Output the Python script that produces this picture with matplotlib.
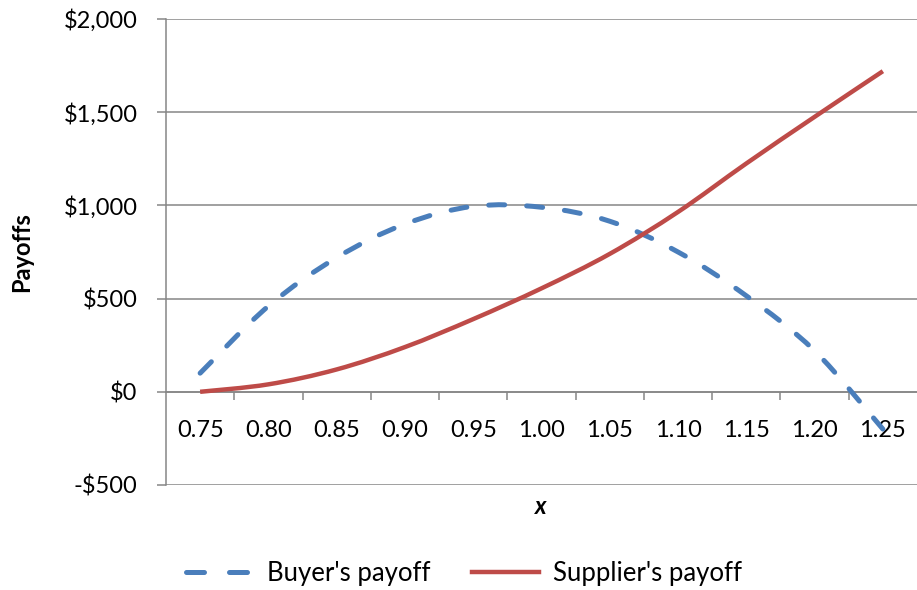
import matplotlib
matplotlib.use("Agg")
import matplotlib.pyplot as plt
from matplotlib.path import Path
from matplotlib.patches import PathPatch
from matplotlib.lines import Line2D
from matplotlib.ticker import FixedLocator, FuncFormatter

plt.rcParams['font.family'] = ['Lato', 'DejaVu Sans']

# Data
x_labels = ["0.75", "0.80", "0.85", "0.90", "0.95", "1.00", "1.05", "1.10", "1.15", "1.20", "1.25"]
buyer_payoff = [100, 460, 720, 900, 995, 990, 915, 750, 515, 220, -200]
supplier_payoff = [0, 40, 120, 240, 390, 555, 740, 965, 1225, 1475, 1720]
y_ticks = [-500, 0, 500, 1000, 1500, 2000]

BLUE = "#4A7EBB"
RED = "#BE4B48"
GRAY = "#868686"


def smooth_path(xs, ys):
    """Cubic Bezier path through every data point (smoothed line)."""
    pts = list(zip(xs, ys))
    n = len(pts)
    verts = [pts[0]]
    codes = [Path.MOVETO]
    for i in range(n - 1):
        p0 = pts[max(i - 1, 0)]
        p1 = pts[i]
        p2 = pts[i + 1]
        p3 = pts[min(i + 2, n - 1)]
        c1 = (p1[0] + (p2[0] - p0[0]) / 6, p1[1] + (p2[1] - p0[1]) / 6)
        c2 = (p2[0] - (p3[0] - p1[0]) / 6, p2[1] - (p3[1] - p1[1]) / 6)
        verts += [c1, c2, p2]
        codes += [Path.CURVE4] * 3
    return Path(verts, codes)


W, H = 917, 590
fig = plt.figure(figsize=(W / 100, H / 100), dpi=100)
ax = fig.add_axes([166 / W, 1 - 485 / H, (W - 166) / W, (485 - 19) / H])

pos = list(range(len(x_labels)))
buyer_dash = (0, (3.2, 4.4))
ax.add_patch(PathPatch(smooth_path(pos, buyer_payoff), fill=False, edgecolor=BLUE,
                       lw=3.6, linestyle=buyer_dash, capstyle='round', zorder=3))
ax.add_patch(PathPatch(smooth_path(pos, supplier_payoff), fill=False, edgecolor=RED,
                       lw=3.2, capstyle='butt', zorder=3))

ax.set_xlim(-0.5, len(x_labels) - 0.5)
ax.set_ylim(-500, 2000)

# Horizontal gridlines
ax.set_yticks(y_ticks)
ax.yaxis.set_major_formatter(FuncFormatter(
    lambda v, _: f"-${abs(v):,.0f}" if v < 0 else f"${v:,.0f}"))
ax.grid(axis='y', color=GRAY, lw=1.1, zorder=0)
ax.set_axisbelow(True)

# Category axis crossing at zero
for s in ('top', 'right'):
    ax.spines[s].set_visible(False)
ax.spines['bottom'].set_position(('data', 0))
ax.spines['bottom'].set_color(GRAY)
ax.spines['bottom'].set_linewidth(1.1)
ax.spines['left'].set_color(GRAY)
ax.spines['left'].set_linewidth(1.1)

ax.xaxis.set_major_locator(FixedLocator([p + 0.5 for p in pos[:-1]]))
ax.xaxis.set_major_formatter(FuncFormatter(lambda v, _: ""))
ax.xaxis.set_minor_locator(FixedLocator(pos))
ax.xaxis.set_minor_formatter(FuncFormatter(lambda v, _: x_labels[int(round(v))]))
ax.tick_params(axis='x', which='major', length=5.5, width=1.1, color=GRAY, direction='out')
ax.tick_params(axis='x', which='minor', length=0, pad=20, labelsize=17, labelcolor='black')
ax.tick_params(axis='y', length=6.5, width=1.1, color=GRAY, pad=14, labelsize=17)

fig.text(22 / W, 1 - 252 / H, "Payoffs", rotation=90, fontsize=17, fontweight='bold',
         ha='center', va='center')
fig.text(541 / W, 1 - 507 / H, "x", fontsize=17, fontweight='bold', style='italic',
         ha='center', va='center')

handles = [
    Line2D([], [], color=BLUE, lw=3.6, linestyle=(0, (3.6, 5.0)), dash_capstyle='round'),
    Line2D([], [], color=RED, lw=3.2),
]
fig.legend(handles, ["Buyer's payoff", "Supplier's payoff"], loc='center',
           bbox_to_anchor=(464 / W, 1 - 573 / H), ncol=2, frameon=False,
           fontsize=18.5, handlelength=2.6, columnspacing=1.6, handletextpad=0.55)

fig.savefig("out.png", dpi=100)
